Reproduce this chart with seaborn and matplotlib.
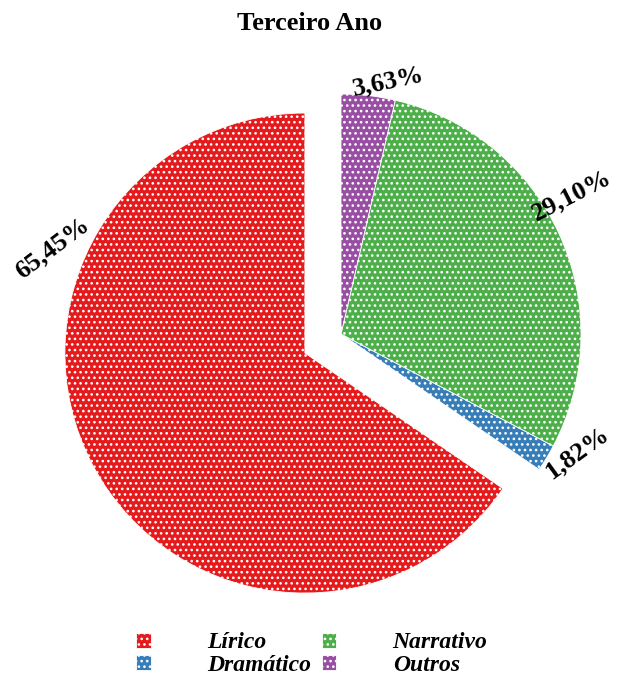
import numpy as np
import matplotlib
matplotlib.use("Agg")
import matplotlib.pyplot as plt
import seaborn as sns

# dados do gráfico (Terceiro Ano)
generos = ['Lírico', 'Dramático', 'Narrativo', 'Outros']
percentuais = [65.45, 1.82, 29.10, 3.63]
rotulos = ['65,45%', '1,82%', '29,10%', '3,63%']

# estilo dos rótulos (ângulo / distância / rotação em graus)
ang_rotulo = [157.5, -26.6, 31.0, 79.5]
dist_rotulo = [1.14, 1.10, 1.12, 1.07]
rot_rotulo = [37, 36, 27, 12]

sns.set_theme(style='white')
plt.rcParams['font.family'] = ['Liberation Serif', 'DejaVu Serif']
plt.rcParams['text.color'] = 'black'
plt.rcParams['hatch.linewidth'] = 1.1

cores = sns.color_palette('Set1', 5)
cores = [cores[0], cores[1], cores[2], cores[3]]

fig = plt.figure(figsize=(6.17, 6.8), dpi=100)
ax = fig.add_axes([0, 0, 1, 1])

wedges, _ = ax.pie(percentuais, colors=cores, startangle=90, counterclock=True,
                   explode=[0.17, 0, 0, 0], radius=1,
                   wedgeprops=dict(edgecolor='white', linewidth=0.6, hatch='...'))

for w, txt, a, d, r in zip(wedges, rotulos, ang_rotulo, dist_rotulo, rot_rotulo):
    cx, cy = w.center
    x = cx + d * np.cos(np.radians(a))
    y = cy + d * np.sin(np.radians(a))
    ax.text(x, y, txt, ha='center', va='center', rotation=r,
            fontsize=19, fontweight='bold', color='black')

cx0, cy0, unid = 341, 334, 240
ax.set_xlim((0 - cx0) / unid, (617 - cx0) / unid)
ax.set_ylim((cy0 - 680) / unid, cy0 / unid)
ax.set_aspect('equal', adjustable='box')
ax.axis('off')

fig.text(310 / 617, 1 - 24 / 680, 'Terceiro Ano', ha='center', va='center',
         fontsize=19, fontweight='bold', color='black')

leg = fig.legend(wedges, generos, ncol=2, loc='center',
                 bbox_to_anchor=(312 / 617, 1 - 654 / 680), frameon=False,
                 prop=dict(family='Liberation Serif', size=17, weight='bold', style='italic'),
                 handlelength=0.6, handleheight=0.6, handletextpad=2.4,
                 columnspacing=0.45, labelspacing=0.05)
for t in leg.get_texts():
    t.set_color('black')

fig.savefig('out.png', dpi=100)
